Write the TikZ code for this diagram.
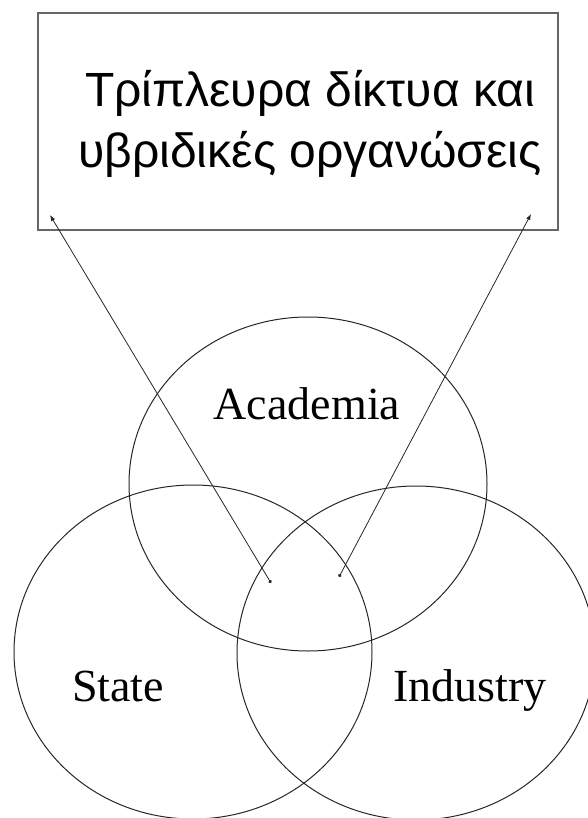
\documentclass[tikz,border=0pt]{standalone}
\usepackage{fontspec}
\setmainfont{Liberation Serif}
\newfontfamily\greekfont{Liberation Sans}
\usepackage{tikz}
\usetikzlibrary{positioning, arrows.meta}
\definecolor{venn-line}{HTML}{262626}
\definecolor{box-line}{HTML}{666666}

\begin{document}
\begin{tikzpicture}[x=1pt, y=-1pt,
    sector/.style={draw=venn-line, line width=1pt},
    label/.style={font=\fontsize{46}{46}\selectfont, text=black, anchor=base, inner sep=0pt},
    link/.style={draw=venn-line, line width=0.8pt,
        {Circle[length=3.4pt]}-{Latex[length=6pt, width=4.5pt]}},
]
    \def\rx{179}
    \def\ry{167}

    % canvas
    \useasboundingbox (0,0) rectangle (588,818);

    % Title box
    \draw[box-line, line width=1.6pt] (38,13) rectangle (558,230);
    \node[font=\greekfont\fontsize{48}{61}\selectfont, align=center, anchor=base]
        (title) at (310,168) {Τρίπλευρα δίκτυα και\\υβριδικές οργανώσεις};

    % Venn circles
    \draw[sector] (308,484) ellipse [x radius=\rx, y radius=\ry];
    \draw[sector] (193,652) ellipse [x radius=\rx, y radius=\ry];
    \draw[sector] (416,653) ellipse [x radius=\rx, y radius=\ry];

    \node[label] (academia) at (307,419) {Academia};
    \node[label] (state) at (118,701) {State};
    \node[label] (industry) at (470,701) {Industry};

    % Links to the box
    \coordinate (hubL) at (271,583);
    \coordinate (hubR) at (339,577);
    \coordinate (cornerL) at (50,215);
    \coordinate (cornerR) at (531,214);
    \draw[link] (hubL) -- (cornerL);
    \draw[link] (hubR) -- (cornerR);
\end{tikzpicture}
\end{document}
